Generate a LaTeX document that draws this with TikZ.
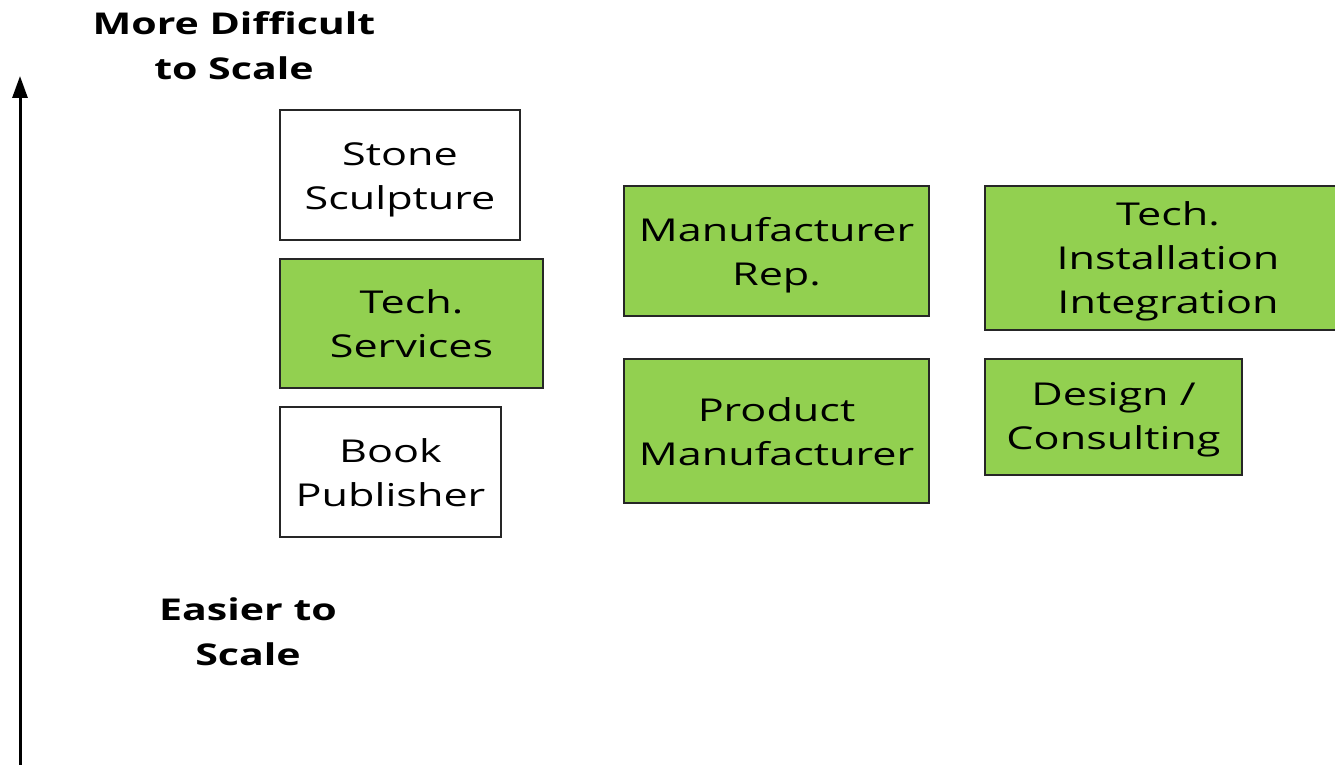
\documentclass[tikz,border=0pt]{standalone}
\usepackage{fontspec}
\setmainfont[FakeStretch=1.37]{Open Sans}
\usepackage{tikz}
\usetikzlibrary{arrows.meta,positioning}
\definecolor{hellgruen}{HTML}{92D050}
\tikzset{
  feld/.style={draw=black!85,line width=1.3pt,inner sep=0pt},
  gruen/.style={feld,fill=hellgruen},
  weiss/.style={feld,fill=white},
  innen/.style={align=center,inner sep=0pt,font=\fontsize{31.5}{44}\selectfont},
  achse/.style={line width=3pt,-{Triangle[length=22pt,width=15pt]}},
  titel/.style={align=center,font=\bfseries\fontsize{30}{45}\selectfont}
}
\begin{document}
\begin{tikzpicture}[x=1pt,y=-1pt]
%Bildgroesse in Pixeln, y zeigt nach unten
\clip (0,0) rectangle (1335,765);
\fill[white] (0,0) rectangle (1335,765);
%linke Spalte
\node[weiss,minimum width=240pt,minimum height=130pt,
  label={[innen,yshift=-5pt]center:Stone\\Sculpture}] (stein) at (400,175) {};
\node[gruen,minimum width=263pt,minimum height=129pt,
  label={[innen]center:Tech.\\Services}] (dienst) at (411.5,323.5) {};
\node[weiss,minimum width=221pt,minimum height=130pt,
  label={[innen,yshift=-1pt]center:Book\\Publisher}] (buch) at (390.5,472) {};
%mittlere Spalte
\node[gruen,minimum width=305pt,minimum height=130pt,
  label={[innen,yshift=-4pt]center:Manufacturer\\Rep.}] (vertreter) at (776.5,251) {};
\node[gruen,minimum width=305pt,minimum height=144pt,
  label={[innen,yshift=-1pt]center:Product\\Manufacturer}] (hersteller) at (776.5,431) {};
%rechte Spalte (rechts abgeschnitten)
\node[gruen,minimum width=366pt,minimum height=144pt,
  label={[innen,yshift=-3pt]center:Tech.\\Installation\\Integration}] (montage) at (1168,258) {};
\node[gruen,minimum width=257pt,minimum height=116pt,
  label={[innen,yshift=-3pt]center:Design /\\Consulting}] (beratung) at (1113.5,417) {};
%Achse
\coordinate (unten) at (20,765);
\coordinate (oben) at (20,76);
\draw[achse] (unten) -- (oben);
\node[titel] (schwer) at (234,46) {More Difficult\\to Scale};
\node[titel] (leicht) at (248,632) {Easier to\\Scale};
\end{tikzpicture}
\end{document}
